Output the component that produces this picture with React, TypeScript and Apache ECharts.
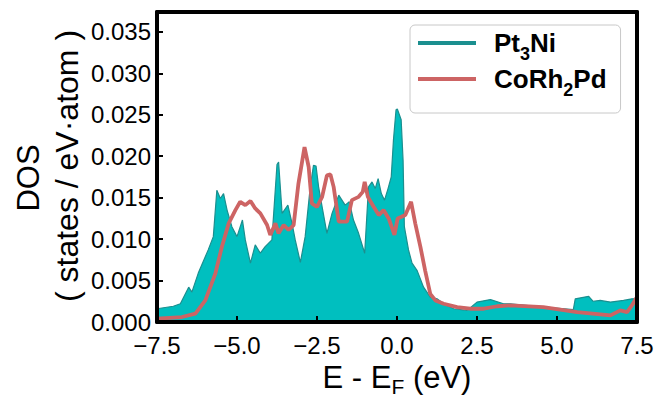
import React, { useEffect, useRef } from "react";
import * as echarts from "echarts";

// Pt3Ni DOS (filled)
const pt3niE = [-7.5, -6.99, -6.77, -6.51, -6.41, -6.21, -5.9, -5.74, -5.63, -5.52, -5.42, -5.31, -5.16, -5.0, -4.83, -4.74, -4.58, -4.43, -4.27, -4.12, -3.91, -3.75, -3.7, -3.59, -3.41, -3.28, -3.18, -3.02, -2.87, -2.71, -2.61, -2.53, -2.45, -2.34, -2.19, -2.03, -1.82, -1.72, -1.62, -1.49, -1.36, -1.2, -1.01, -0.89, -0.78, -0.68, -0.59, -0.49, -0.39, -0.28, -0.18, -0.11, -0.03, 0.01, 0.13, 0.19, 0.23, 0.36, 0.47, 0.63, 0.83, 1.04, 1.25, 1.46, 1.77, 2.19, 2.5, 2.92, 3.33, 3.54, 4.58, 5.51, 5.57, 5.99, 6.13, 6.35, 6.67, 7.08, 7.34, 7.5];
const pt3niDos = [0.0016, 0.0019, 0.0022, 0.0042, 0.0036, 0.0059, 0.0087, 0.0103, 0.0159, 0.0149, 0.0155, 0.0135, 0.0115, 0.0103, 0.0123, 0.0099, 0.0071, 0.0093, 0.0083, 0.0091, 0.0099, 0.019, 0.0193, 0.0131, 0.0141, 0.0119, 0.0099, 0.0072, 0.0103, 0.0163, 0.0189, 0.0188, 0.0163, 0.0139, 0.0107, 0.0131, 0.0153, 0.0147, 0.0141, 0.0145, 0.0123, 0.0107, 0.0083, 0.0163, 0.0169, 0.0161, 0.0173, 0.0155, 0.0147, 0.0161, 0.0175, 0.022, 0.0256, 0.0257, 0.0244, 0.0195, 0.0115, 0.0087, 0.0071, 0.0062, 0.0042, 0.003, 0.0028, 0.0022, 0.0016, 0.0014, 0.0024, 0.0027, 0.0022, 0.0022, 0.0018, 0.0015, 0.0028, 0.0031, 0.0025, 0.0026, 0.0024, 0.0026, 0.0028, 0.0028];

// CoRh2Pd DOS (line)
const corhE = [-7.5, -6.72, -6.3, -5.99, -5.68, -5.47, -5.26, -5.05, -4.9, -4.74, -4.58, -4.43, -4.27, -4.06, -3.96, -3.8, -3.7, -3.54, -3.39, -3.23, -3.08, -2.89, -2.76, -2.66, -2.5, -2.34, -2.19, -2.08, -1.98, -1.82, -1.56, -1.41, -1.2, -1.07, -1.01, -0.91, -0.73, -0.57, -0.42, -0.26, -0.08, 0.02, 0.26, 0.44, 0.57, 0.73, 0.88, 1.04, 1.2, 1.46, 1.88, 2.29, 2.71, 3.13, 3.54, 4.57, 5.63, 6.67, 6.98, 7.19, 7.34, 7.48];
const corhDos = [0.0004, 0.0006, 0.001, 0.0026, 0.0058, 0.0091, 0.0119, 0.0135, 0.0145, 0.0141, 0.0146, 0.0137, 0.0131, 0.0117, 0.0105, 0.0119, 0.0107, 0.0117, 0.0111, 0.0117, 0.0167, 0.0211, 0.0187, 0.0143, 0.0139, 0.0151, 0.0177, 0.0178, 0.0163, 0.0121, 0.0121, 0.0147, 0.0151, 0.0157, 0.0169, 0.0151, 0.0139, 0.0129, 0.0135, 0.0125, 0.0105, 0.0125, 0.0129, 0.0145, 0.0119, 0.0091, 0.0062, 0.0034, 0.0026, 0.0022, 0.0018, 0.0016, 0.0016, 0.0019, 0.002, 0.0018, 0.0012, 0.0008, 0.0014, 0.0012, 0.002, 0.0029];

const seriesNames = ["Pt3Ni", "CoRh2Pd"];
const xMin = -7.5, xMax = 7.5, xStep = 2.5;
const yMin = 0, yMax = 0.0374, yStep = 0.005;

const FONT = "Liberation Sans";
const TEAL_FILL = "#00bfbf";
const TEAL_LINE = "#1b8f8f";
const RED = "#cd6464";

export default function App() {
  const ref = useRef<HTMLDivElement>(null);
  useEffect(() => {
    if (!ref.current) return;
    const chart = echarts.init(ref.current, undefined, { renderer: "svg" });
    const minus = (s: string) => s.replace("-", "\u2212");
    const frameAxis = {
      axisTick: { show: false },
      axisLabel: { show: false },
      splitLine: { show: false },
      z: 10,
    };
    chart.setOption({
      animation: false,
      backgroundColor: "#fff",
      grid: { left: 157, right: 22, top: 12, bottom: 81, containLabel: false },
      legend: {
        left: 410,
        top: 25,
        orient: "vertical",
        icon: "rect",
        itemWidth: 58,
        itemHeight: 4,
        itemGap: 3,
        padding: [5, 14, 14, 8],
        borderColor: "#c8c8c8",
        borderWidth: 1,
        borderRadius: 5,
        backgroundColor: "#fff",
        data: [
          { name: seriesNames[0], itemStyle: { color: TEAL_LINE } },
          { name: seriesNames[1], itemStyle: { color: RED } },
        ],
        formatter: (name: string) =>
          name === "Pt3Ni" ? "{b|Pt}{s|3}{b|Ni}" : "{b|CoRh}{s|2}{b|Pd}",
        textStyle: {
          padding: [0, 0, 0, 13],
          rich: {
            b: { fontFamily: FONT, fontSize: 26, fontWeight: "bold", color: "#000", lineHeight: 30 },
            s: { fontFamily: FONT, fontSize: 18, fontWeight: "bold", color: "#000", lineHeight: 14, padding: [11, 0, -11, 0] },
          },
        },
      },
      xAxis: [
        {
          type: "value",
          min: xMin,
          max: xMax,
          interval: xStep,
          position: "bottom",
          z: 10,
          axisLine: { show: true, onZero: false, lineStyle: { color: "#000", width: 4 } },
          axisTick: { show: true, inside: true, length: 6, lineStyle: { color: "#000", width: 2 } },
          axisLabel: {
            color: "#000",
            fontFamily: FONT,
            fontSize: 24,
            margin: 11,
            formatter: (v: number) => minus(v.toFixed(1)),
          },
          splitLine: { show: false },
          name: "{m|E - E}{s|F}{m| (eV)}",
          nameLocation: "middle",
          nameGap: 14,
          nameTextStyle: {
            color: "#000",
            fontFamily: FONT,
            fontSize: 31,
            rich: {
              m: { fontFamily: FONT, fontSize: 31, color: "#000", lineHeight: 34 },
              s: { fontFamily: FONT, fontSize: 21, color: "#000", lineHeight: 18, padding: [9, 0, -9, 0] },
            },
          },
        },
        { type: "value", min: xMin, max: xMax, position: "top", ...frameAxis, axisLine: { show: true, onZero: false, lineStyle: { color: "#000", width: 4 } } },
      ],
      yAxis: [
        {
          type: "value",
          min: yMin,
          max: yMax,
          interval: yStep,
          position: "left",
          z: 10,
          axisLine: { show: true, onZero: false, lineStyle: { color: "#000", width: 4 } },
          axisTick: { show: true, inside: true, length: 6, lineStyle: { color: "#000", width: 2 } },
          axisLabel: {
            color: "#000",
            fontFamily: FONT,
            fontSize: 24,
            margin: 6,
            showMaxLabel: false,
            formatter: (v: number) => (v > 0.0355 ? "" : v.toFixed(3)),
          },
          splitLine: { show: false },
        },
        { type: "value", min: yMin, max: yMax, position: "right", ...frameAxis, axisLine: { show: true, onZero: false, lineStyle: { color: "#000", width: 4 } } },
      ],
      graphic: [
        {
          type: "text",
          x: 28,
          y: 178,
          rotation: Math.PI / 2,
          style: { text: "DOS", fontFamily: FONT, fontSize: 31, fill: "#000", textAlign: "center", textVerticalAlign: "middle" },
        },
        {
          type: "text",
          x: 67,
          y: 166,
          rotation: Math.PI / 2,
          style: { text: "( states / eV\u00b7atom )", fontFamily: FONT, fontSize: 32, fill: "#000", textAlign: "center", textVerticalAlign: "middle" },
        },
      ],
      series: [
        {
          name: seriesNames[0],
          type: "line",
          data: pt3niE.map((e, i) => [e, pt3niDos[i]]),
          symbol: "none",
          color: TEAL_LINE,
          lineStyle: { color: TEAL_LINE, width: 1.2 },
          areaStyle: { color: TEAL_FILL, opacity: 1 },
          z: 2,
        },
        {
          name: seriesNames[1],
          type: "line",
          data: corhE.map((e, i) => [e, corhDos[i]]),
          symbol: "none",
          color: RED,
          lineStyle: { color: RED, width: 3.8 },
          z: 3,
        },
      ],
    });
    return () => chart.dispose();
  }, []);
  return <div ref={ref} style={{ width: 659, height: 403, position: "fixed", left: 0, top: 0 }} />;
}
